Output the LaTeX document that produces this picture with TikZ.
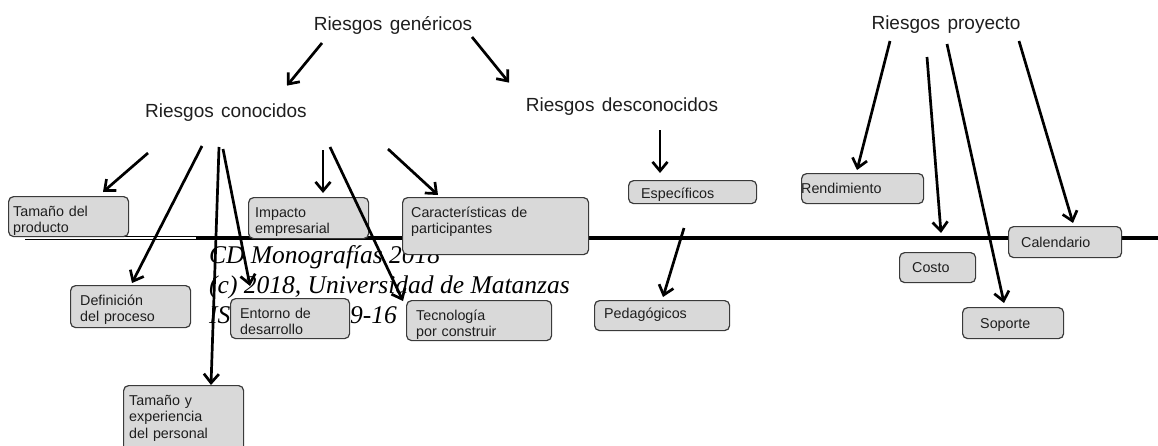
\documentclass[tikz,border=0pt]{standalone}
\usepackage{fontspec}
\setmainfont{Liberation Sans}
\newfontfamily\cabfont{Liberation Sans}[WordSpace=1.4]
\newfontfamily\marcafont{Liberation Serif}
\usepackage{tikz}
\usetikzlibrary{arrows.meta}
\usepackage{xcolor}
\definecolor{cajafondo}{HTML}{D9D9D9}
\definecolor{cajaborde}{HTML}{3A3A3A}
\definecolor{cajatexto}{HTML}{1E1E1E}

\begin{document}
\begin{tikzpicture}[x=1pt,y=-1pt,
riesgo/.style={font=\cabfont\fontsize{19}{23}\selectfont,text=cajatexto},
caja/.style={draw=cajaborde,fill=cajafondo,rounded corners=5pt,line width=1.2pt,anchor=north west,inner sep=0pt},
etiq/.style={anchor=base west,align=left,text width=170pt,inner sep=0pt,text=cajatexto,font=\fontsize{14.3}{16.5}\selectfont,yshift=-20pt},
flecha/.style={-{Straight Barb[length=9pt,width=15pt]},line width=2.7pt},
marca/.style={anchor=base west,inner sep=0pt,font=\marcafont\itshape\fontsize{25.5}{30}\selectfont}]
\useasboundingbox (0,0) rectangle (1158,445);

% marca de agua
\node (wm1) [marca] at (209,263) {CD Monografías 2018};
\node (wm2) [marca] at (209,293) {(c) 2018, Universidad de Matanzas};
\node (wm3) [marca] at (209,323) {ISBN: 978-959-16};

% linea horizontal
\draw[line width=0.8pt] (25,236.3) -- (197,236.3);
\draw[line width=0.8pt] (25,239.2) -- (197,239.2);
\draw[line width=4pt] (196,237.5) -- (1158,237.5);

% titulos
\node (gen) [riesgo] at (393,25) {Riesgos genéricos};
\node (conoc) [riesgo] at (226,113) {Riesgos conocidos};
\node (desc) [riesgo] at (622,107) {Riesgos desconocidos};
\node (proy) [riesgo] at (946,25) {Riesgos proyecto};

% riesgos conocidos
\node (tprod) [caja,minimum width=120pt,minimum height=40pt,
  label={[etiq,xshift=5pt]north west:Tamaño del\\producto}] at (8,196) {};
\node (defin) [caja,minimum width=120pt,minimum height=42pt,
  label={[etiq,xshift=10pt]north west:Definición\\del proceso}] at (70,285) {};
\node (texper) [caja,minimum width=120pt,minimum height=75pt,
  label={[etiq,xshift=6pt]north west:Tamaño y\\experiencia\\del personal}] at (123,385) {};
\node (impac) [caja,minimum width=120pt,minimum height=41pt,
  label={[etiq,xshift=7pt]north west:Impacto\\empresarial}] at (248,197) {};
\node (entor) [caja,minimum width=119pt,minimum height=40pt,
  label={[etiq,xshift=10pt]north west:Entorno de\\desarrollo}] at (230,298) {};
\node (caract) [caja,minimum width=186pt,minimum height=57pt,
  label={[etiq,xshift=9pt]north west:Características de\\participantes}] at (402,197) {};
\node (tecno) [caja,minimum width=145pt,minimum height=40pt,
  label={[etiq,xshift=10pt]north west:Tecnología\\por construir}] at (406,300) {};

% riesgos desconocidos
\node (espec) [caja,minimum width=128pt,minimum height=23pt,
  label={[etiq,xshift=13pt,yshift=2pt]north west:Específicos}] at (628,180) {};
\node (pedag) [caja,minimum width=135pt,minimum height=30pt,
  label={[etiq,xshift=10pt,yshift=2pt]north west:Pedagógicos}] at (594,300) {};

% riesgos proyecto
\node (rendi) [caja,minimum width=122pt,minimum height=30pt,
  label={[etiq,xshift=0pt]north west:Rendimiento}] at (801,173) {};
\node (costo) [caja,minimum width=76pt,minimum height=30pt,
  label={[etiq,xshift=13pt]north west:Costo}] at (899,252) {};
\node (sopor) [caja,minimum width=101pt,minimum height=31pt,
  label={[etiq,xshift=18pt,yshift=-1pt]north west:Soporte}] at (962,307) {};
\node (calen) [caja,minimum width=113pt,minimum height=31pt,
  label={[etiq,xshift=13pt,yshift=-1pt]north west:Calendario}] at (1008,226) {};

% origen de las flechas
\coordinate (g1) at (322,43);
\coordinate (g2) at (472,37);
\coordinate (k1) at (148,153);
\coordinate (k2) at (202,146);
\coordinate (k3) at (219,147);
\coordinate (k4) at (223,149);
\coordinate (k5) at (323,150);
\coordinate (k6) at (330,147);
\coordinate (k7) at (388,149);
\coordinate (d1) at (660,130);
\coordinate (d2) at (684,228);
\coordinate (p1) at (890,41);
\coordinate (p2) at (927,57);
\coordinate (p3) at (947,44);
\coordinate (p4) at (1019,41);

\draw[flecha] (g1) -- ([xshift=61pt,yshift=15pt]conoc.north);
\draw[flecha] (g2) -- ([xshift=-113pt,yshift=12pt]desc.north);

\draw[flecha] (k1) -- ([xshift=95pt,yshift=4pt]tprod.north west);
\draw[flecha] (k2) -- ([xshift=62pt,yshift=2pt]defin.north west);
\draw[flecha] (k3) -- ([xshift=88pt,yshift=0pt]texper.north west);
\draw[flecha] (k4) -- ([xshift=20pt,yshift=12pt]entor.north west);
\draw[flecha] (k5) -- ([xshift=75pt,yshift=4pt]impac.north west);
\draw[flecha] (k6) -- ([xshift=-3pt,yshift=-1pt]tecno.north west);
\draw[flecha] (k7) -- ([xshift=36pt,yshift=2pt]caract.north west);

\draw[flecha] (d1) -- ([xshift=32pt,yshift=7pt]espec.north west);
\draw[flecha] (d2) -- ([xshift=69pt,yshift=3pt]pedag.north west);

\draw[flecha] (p1) -- ([xshift=56pt,yshift=3pt]rendi.north west);
\draw[flecha] (p2) -- ([xshift=42pt,yshift=19pt]costo.north west);
\draw[flecha] (p3) -- ([xshift=42pt,yshift=4pt]sopor.north west);
\draw[flecha] (p4) -- ([xshift=65pt,yshift=3pt]calen.north west);
\end{tikzpicture}
\end{document}
